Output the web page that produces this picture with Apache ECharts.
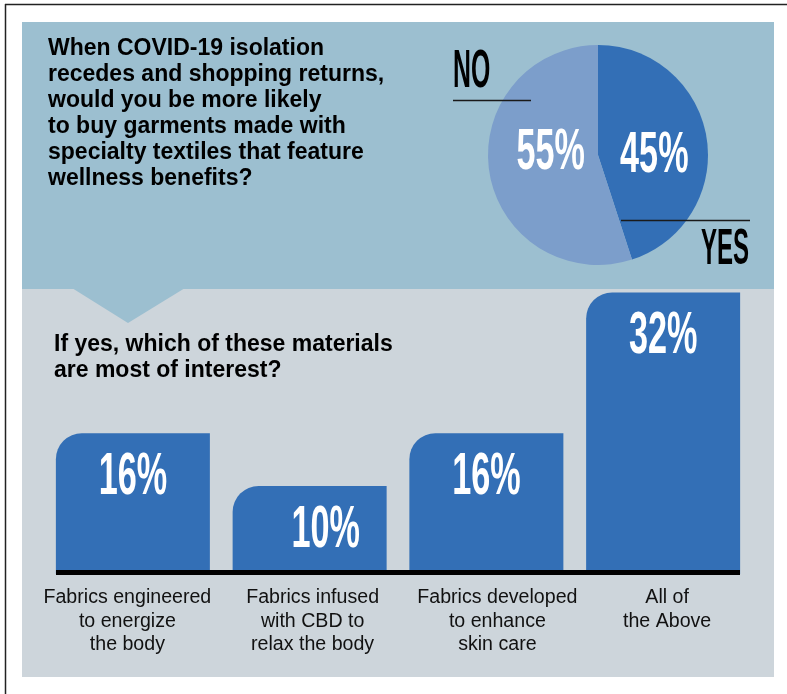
<!DOCTYPE html>
<html>
<head>
<meta charset="utf-8">
<title>Wellness textiles survey</title>
<script src="https://cdn.jsdelivr.net/npm/echarts@6/dist/echarts.min.js"></script>
<style>
  html, body { margin: 0; padding: 0; background: #ffffff; }
  #main { width: 787px; height: 694px; }
</style>
</head>
<body>
<div id="main"></div>
<script>
// Survey question and answers
const questionLines = [
  'When COVID-19 isolation',
  'recedes and shopping returns,',
  'would you be more likely',
  'to buy garments made with',
  'specialty textiles that feature',
  'wellness benefits?'
];
const pieNames = ['YES', 'NO'];
const pieValues = [45, 55];
const pieColors = ['#336fb6', '#7c9ecb'];

// Follow-up question: materials of interest
const subtitleLines = ['If yes, which of these materials', 'are most of interest?'];
const materialCategories = [
  'Fabrics engineered\nto energize\nthe body',
  'Fabrics infused\nwith CBD to\nrelax the body',
  'Fabrics developed\nto enhance\nskin care',
  'All of\nthe Above'
];
const materialValues = [16, 10, 16, 32];

const BLUE_PANEL = '#9cbfd0';
const GRAY_PANEL = '#cdd5db';
const BAR_BLUE = '#336fb6';
const SANS = '"Liberation Sans", Arial, Helvetica, sans-serif';

// small horizontal nudges: value label inside each bar, and category caption padding
const barLabelShift = [0, 16, 0, 0];
const captionPadding = [[0, 11, 0, 0], [0, 0, 0, 6], [0, 0, 0, 22], [0, 0, 0, 8]];

const chart = echarts.init(document.getElementById('main'), null, { renderer: 'canvas' });

chart.setOption({
  backgroundColor: '#ffffff',
  animation: false,
  grid: { left: 44.5, right: 35.5, top: 222, bottom: 120, containLabel: false },
  xAxis: {
    type: 'category',
    data: materialCategories.map((c, i) => ({ value: c, textStyle: { padding: captionPadding[i] } })),
    axisLine: { show: false },
    axisTick: { show: false },
    splitLine: { show: false },
    axisLabel: {
      interval: 0,
      margin: 12,
      fontSize: 19.6,
      lineHeight: 23.5,
      color: '#111111',
      fontFamily: SANS
    }
  },
  yAxis: { type: 'value', min: 0, max: 40, show: false },
  series: [
    {
      type: 'bar',
      data: materialValues,
      barWidth: 154,
      itemStyle: { color: BAR_BLUE, borderRadius: [26, 0, 0, 0] },
      silent: true,
      z: 3
    },
    {
      // condensed value labels, positioned from each bar's top
      type: 'custom',
      data: materialValues.map((v, i) => [i, v]),
      silent: true,
      z: 4,
      renderItem: function (params, api) {
        const v = api.value(1);
        const p = api.coord([api.value(0), v]);
        return {
          type: 'text',
          x: p[0] + barLabelShift[params.dataIndex],
          y: p[1] + 44,
          scaleX: 0.57,
          style: {
            text: v + '%',
            fill: '#ffffff',
            font: 'bold 60px ' + SANS,
            align: 'center',
            verticalAlign: 'middle'
          }
        };
      }
    },
    {
      type: 'pie',
      center: [598, 155],
      radius: 110,
      startAngle: 90,
      clockwise: true,
      silent: true,
      label: { show: false },
      labelLine: { show: false },
      itemStyle: { borderWidth: 0 },
      data: pieNames.map((n, i) => ({ name: n, value: pieValues[i], itemStyle: { color: pieColors[i] } })),
      z: 3
    }
  ]
});

// Percent labels inside the pie, placed at the middle of each slice
function pieLabelPoints() {
  const pts = [];
  let layouts = null;
  try {
    const data = chart.getModel().getSeriesByIndex(2).getData();
    layouts = pieValues.map((_, i) => data.getItemLayout(i));
  } catch (e) {
    layouts = null;
  }
  if (!layouts || !layouts[0]) {
    const total = pieValues.reduce((a, b) => a + b, 0);
    let start = -Math.PI / 2;
    layouts = pieValues.map(v => {
      const end = start + (v / total) * Math.PI * 2;
      const l = { cx: 598, cy: 155, r: 110, r0: 0, startAngle: start, endAngle: end };
      start = end;
      return l;
    });
  }
  layouts.forEach(l => {
    const mid = (l.startAngle + l.endAngle) / 2;
    const rr = (l.r + (l.r0 || 0)) / 2;
    pts.push([l.cx + Math.cos(mid) * rr, l.cy + Math.sin(mid) * rr]);
  });
  return pts;
}
const piePts = pieLabelPoints();
const pieLabelNudge = [[2, 10], [7, -10]];

const graphics = [
  // frame
  { type: 'line', shape: { x1: 5, y1: 4.5, x2: 787, y2: 4.5 }, style: { stroke: '#222', lineWidth: 1.5 }, z: 0 },
  { type: 'line', shape: { x1: 5.5, y1: 4, x2: 5.5, y2: 694 }, style: { stroke: '#222', lineWidth: 1.5 }, z: 0 },
  // panels
  { type: 'rect', shape: { x: 22, y: 22, width: 752, height: 267 }, style: { fill: BLUE_PANEL }, z: 0 },
  { type: 'rect', shape: { x: 22, y: 289, width: 752, height: 388 }, style: { fill: GRAY_PANEL }, z: 0 },
  { type: 'polygon', shape: { points: [[72, 288], [185, 288], [128, 323]] }, style: { fill: BLUE_PANEL }, z: 1 },
  // headings
  {
    type: 'text', x: 48, y: 36, z: 10,
    style: { text: questionLines.join('\n'), font: 'bold 23px ' + SANS, fill: '#000', lineHeight: 26, align: 'left', verticalAlign: 'top' }
  },
  {
    type: 'text', x: 54, y: 332, z: 10,
    style: { text: subtitleLines.join('\n'), font: 'bold 23px ' + SANS, fill: '#000', lineHeight: 26, align: 'left', verticalAlign: 'top' }
  },
  // pie answer tags
  {
    type: 'text', x: 453, y: 72.5, scaleX: 0.46, z: 10,
    style: { text: pieNames[1], font: 'bold 54px ' + SANS, fill: '#000', align: 'left', verticalAlign: 'middle' }
  },
  { type: 'line', shape: { x1: 453, y1: 100.5, x2: 531, y2: 100.5 }, style: { stroke: '#1a1a1a', lineWidth: 1.5 }, z: 10 },
  {
    type: 'text', x: 749, y: 250, scaleX: 0.48, z: 10,
    style: { text: pieNames[0], font: 'bold 50px ' + SANS, fill: '#000', align: 'right', verticalAlign: 'middle' }
  },
  { type: 'line', shape: { x1: 621, y1: 220.5, x2: 750, y2: 220.5 }, style: { stroke: '#1a1a1a', lineWidth: 1.5 }, z: 10 },
  // bar baseline
  { type: 'rect', shape: { x: 56, y: 570, width: 684, height: 5 }, style: { fill: '#000' }, z: 10 }
];

piePts.forEach((p, i) => {
  graphics.push({
    type: 'text',
    x: p[0] + pieLabelNudge[i][0],
    y: p[1] + pieLabelNudge[i][1],
    scaleX: 0.6,
    z: 10,
    style: { text: pieValues[i] + '%', font: 'bold 57px ' + SANS, fill: '#fff', align: 'center', verticalAlign: 'middle' }
  });
});

chart.setOption({ graphic: { elements: graphics } });
</script>
</body>
</html>
